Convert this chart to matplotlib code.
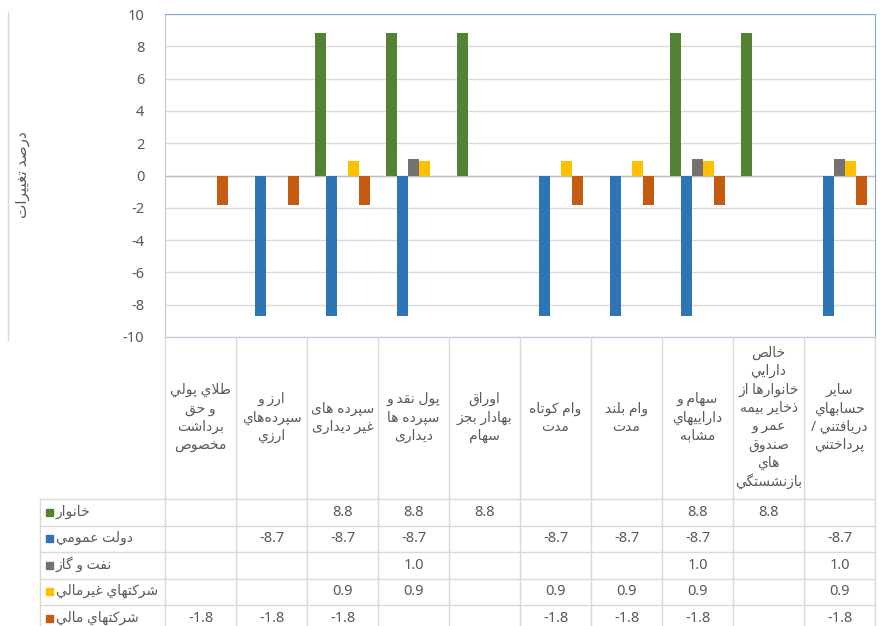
import matplotlib
matplotlib.use("Agg")
import matplotlib.pyplot as plt
import numpy as np
from matplotlib.transforms import blended_transform_factory
from matplotlib.lines import Line2D
from matplotlib.patches import Rectangle

plt.rcParams['font.family'] = ['Noto Sans', 'DejaVu Sans']
plt.rcParams['axes.unicode_minus'] = False

categories = [
    "طلاي پولي\nو حق\nبرداشت\nمخصوص",
    "ارز و\nسپرده\u200cهاي\nارزي",
    "سپرده هاى\nغير ديدارى",
    "پول نقد و\nسپرده ها\nديدارى",
    "اوراق\nبهادار بجز\nسهام",
    "وام کوتاه\nمدت",
    "وام بلند\nمدت",
    "سهام و\nداراييهاي\nمشابه",
    "خالص\nدارايي\nخانوارها از\nذخاير بيمه\nعمر و\nصندوق\nهاي\nبازنشستگي",
    "ساير\nحسابهاي\nدريافتني /\nپرداختني",
]
series_names = ["خانوار", "دولت عمومي", "نفت و گاز", "شرکتهاي غيرمالي", "شرکتهاي مالي"]
nan = np.nan
households = [nan, nan, 8.8, 8.8, 8.8, nan, nan, 8.8, 8.8, nan]
government = [nan, -8.7, -8.7, -8.7, nan, -8.7, -8.7, -8.7, nan, -8.7]
oil_gas = [nan, nan, nan, 1.0, nan, nan, nan, 1.0, nan, 1.0]
nonfinancial = [nan, nan, 0.9, 0.9, nan, 0.9, 0.9, 0.9, nan, 0.9]
financial = [-1.8, -1.8, -1.8, nan, nan, -1.8, -1.8, -1.8, nan, -1.8]
series_values = [households, government, oil_gas, nonfinancial, financial]
colors = ["#548235", "#2E75B6", "#767171", "#FFC000", "#C55A11"]
y_label = "درصد تغییرات"

# --- minimal arabic/persian shaping (matplotlib has no text shaping) ---
FORMS = {
    'ء': (0xFE80, 1), 'آ': (0xFE81, 2), 'أ': (0xFE83, 2), 'ؤ': (0xFE85, 2),
    'إ': (0xFE87, 2), 'ئ': (0xFE89, 4), 'ا': (0xFE8D, 2), 'ب': (0xFE8F, 4),
    'ة': (0xFE93, 2), 'ت': (0xFE95, 4), 'ث': (0xFE99, 4), 'ج': (0xFE9D, 4),
    'ح': (0xFEA1, 4), 'خ': (0xFEA5, 4), 'د': (0xFEA9, 2), 'ذ': (0xFEAB, 2),
    'ر': (0xFEAD, 2), 'ز': (0xFEAF, 2), 'س': (0xFEB1, 4), 'ش': (0xFEB5, 4),
    'ص': (0xFEB9, 4), 'ض': (0xFEBD, 4), 'ط': (0xFEC1, 4), 'ظ': (0xFEC5, 4),
    'ع': (0xFEC9, 4), 'غ': (0xFECD, 4), 'ف': (0xFED1, 4), 'ق': (0xFED5, 4),
    'ك': (0xFED9, 4), 'ل': (0xFEDD, 4), 'م': (0xFEE1, 4), 'ن': (0xFEE5, 4),
    'ه': (0xFEE9, 4), 'و': (0xFEED, 2), 'ى': (0xFEEF, 2), 'ي': (0xFEF1, 4),
    'پ': (0xFB56, 4), 'چ': (0xFB7A, 4), 'ژ': (0xFB8A, 2), 'ک': (0xFB8E, 4),
    'گ': (0xFB92, 4), 'ی': (0xFBFC, 4),
}
LAM_ALEF = {'ا': 0xFEFB, 'آ': 0xFEF5, 'أ': 0xFEF7, 'إ': 0xFEF9}


def shape_line(line):
    out = []
    n = len(line)
    i = 0
    while i < n:
        ch = line[i]
        if ch not in FORMS:
            if ch != '\u200c':
                out.append(ch)
            i += 1
            continue
        prev = line[i - 1] if i > 0 else ''
        joins_prev = prev in FORMS and FORMS[prev][1] == 4
        if ch == 'ل' and i + 1 < n and line[i + 1] in LAM_ALEF:
            out.append(chr(LAM_ALEF[line[i + 1]] + (1 if joins_prev else 0)))
            i += 2
            continue
        nxt = line[i + 1] if i + 1 < n else ''
        start, nforms = FORMS[ch]
        joins_next = nforms == 4 and nxt in FORMS
        if nforms == 1:
            k = 0
        elif joins_prev and joins_next:
            k = 3
        elif joins_prev:
            k = 1
        elif joins_next:
            k = 2
        else:
            k = 0
        out.append(chr(start + k))
        i += 1
    return ''.join(reversed(out))


def fa(s):
    return '\n'.join(shape_line(l) for l in s.split('\n'))


W, H = 880, 626
fig = plt.figure(figsize=(W / 100, H / 100), dpi=100)
ax = fig.add_axes([165 / W, 1 - 337 / H, 710 / W, 323 / H])

ncat = len(categories)
nser = len(series_values)
x = np.arange(ncat)
bw = 1 / 6.5
for j, (vals, c) in enumerate(zip(series_values, colors)):
    ax.bar(x + (j - 2) * bw, vals, width=bw, color=c, zorder=3)

ax.set_xlim(-0.5, ncat - 0.5)
ax.set_ylim(-10, 10)
ax.set_yticks(np.arange(-10, 11, 2))
ax.set_xticks([])
ax.tick_params(axis='y', length=0, pad=15, labelsize=10.5, labelcolor='#595959')
ax.grid(axis='y', color='#D9D9D9', lw=1, zorder=0)
ax.axhline(0, color='#BFBFBF', lw=1, zorder=2)
for side in ['top', 'right']:
    ax.spines[side].set_color('#7EA6D6')
for side in ['left', 'bottom']:
    ax.spines[side].set_color('#B4C8E0')

fig.text(23 / W, 1 - 175 / H, fa(y_label), rotation=90, ha='center', va='center',
         fontsize=11, color='#595959')

# left border line of chart area
fig.add_artist(Line2D([8 / W, 8 / W], [1 - 12 / H, 1 - 340 / H], color='#D9D9D9', lw=1))

# --- data table below the plot ---
trans = blended_transform_factory(ax.transData, fig.transFigure)
grid_c = '#D9D9D9'


def fy(p):
    return 1 - p / H


head_top = 337
row_top = 499
row_h = 26.5
table_bottom = row_top + row_h * nser

for b in np.arange(-0.5, ncat, 1.0):
    fig.add_artist(Line2D([b, b], [fy(head_top), fy(table_bottom)], color=grid_c,
                          lw=1, transform=trans))
for i in range(nser + 1):
    yy = fy(row_top + i * row_h)
    fig.add_artist(Line2D([40 / W, 875 / W], [yy, yy], color=grid_c, lw=1))
fig.add_artist(Line2D([40 / W, 40 / W], [fy(row_top), fy(table_bottom)], color=grid_c, lw=1))

for i, cat in enumerate(categories):
    fig.text(i, fy(418), fa(cat), transform=trans, ha='center', va='center',
             multialignment='center', fontsize=10, color='#595959', linespacing=1.3)

for j, (name, vals, c) in enumerate(zip(series_names, series_values, colors)):
    yc = fy(row_top + (j + 0.5) * row_h)
    fig.add_artist(Rectangle((46 / W, yc - 3.5 / H), 7 / W, 7 / H, color=c,
                             transform=fig.transFigure))
    fig.text(56 / W, yc, fa(name), ha='left', va='center', fontsize=10, color='#595959')
    for i, v in enumerate(vals):
        if not np.isnan(v):
            fig.text(i, yc, "%.1f" % v, transform=trans, ha='center', va='center',
                     fontsize=10.5, color='#595959')

fig.savefig("out.png", dpi=100)
